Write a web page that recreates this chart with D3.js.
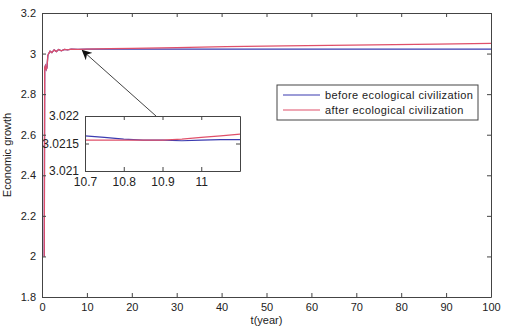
<!DOCTYPE html>
<html lang="en">
<head>
<meta charset="UTF-8" />
<title>Economic growth</title>
<script src="https://cdn.jsdelivr.net/npm/d3@7"></script>
<style>
  body { margin: 0; background: #fff; }
  svg text { font-family: "Liberation Sans", Arial, sans-serif; fill: #222; }
  .axis path, .axis line { stroke: #444; }
</style>
</head>
<body>
<svg id="chart" width="510" height="331"></svg>
<script>
// data
const years = [0.5, 0.6, 0.75, 0.95, 1.1, 1.3, 1.5, 1.8, 2.2, 2.7, 3.2, 3.7, 4.3, 5, 5.7, 6.5, 8, 10, 15, 20, 30, 41, 54, 69, 88, 100];
const beforeEco = [2.0, 2.93, 2.94, 2.922, 2.93, 2.99, 3.0, 3.012, 3.005, 3.018, 3.01, 3.02, 3.014, 3.021, 3.018, 3.022, 3.021, 3.0216, 3.0218, 3.022, 3.022, 3.022, 3.022, 3.022, 3.022, 3.022];
const afterEco = [2.0, 2.93, 2.94, 2.922, 2.93, 2.99, 3.0, 3.012, 3.005, 3.018, 3.01, 3.02, 3.014, 3.021, 3.018, 3.022, 3.021, 3.0216, 3.024, 3.026, 3.029, 3.034, 3.038, 3.042, 3.047, 3.05];

// zoomed window t = 10.7 .. 11.1
const zoomYears = [10.7, 10.75, 10.8, 10.85, 10.9, 10.95, 11.0, 11.05, 11.1];
const zoomBefore = [3.02164, 3.02161, 3.02158, 3.02156, 3.02156, 3.02155, 3.02156, 3.02157, 3.02157];
const zoomAfter = [3.02156, 3.02156, 3.02156, 3.02156, 3.02156, 3.02158, 3.02161, 3.02164, 3.02167];

const xTicks = [0, 10, 20, 30, 40, 50, 60, 70, 80, 90, 100];
const yTicks = [1.8, 2, 2.2, 2.4, 2.6, 2.8, 3, 3.2];
const zoomXTicks = [10.7, 10.8, 10.9, 11];
const zoomYTicks = [3.021, 3.0215, 3.022];
const seriesNames = ["before ecological civilization", "after ecological civilization"];
const colors = ["#3b3bb0", "#e0506a"];

const svg = d3.select("#chart");
const plotL = 42, plotR = 491, plotT = 13, plotB = 297;

const x = d3.scaleLinear().domain([0, 100]).range([plotL, plotR]);
const y = d3.scaleLinear().domain([1.8, 3.2]).range([plotB, plotT]);

// frame + ticks (matlab style: ticks inward on all sides)
function frame(g, xs, ys, xt, yt, xfmt, yfmt) {
  const [x0, x1] = xs.range(), [y0, y1] = ys.range();
  g.append("g").attr("class", "axis").attr("transform", `translate(0,${y0})`)
    .call(d3.axisBottom(xs).tickValues(xt).tickSizeInner(-4).tickSizeOuter(0).tickPadding(6).tickFormat(xfmt));
  g.append("g").attr("class", "axis").attr("transform", `translate(0,${y1})`)
    .call(d3.axisTop(xs).tickValues(xt).tickSizeInner(-4).tickSizeOuter(0).tickFormat(""));
  g.append("g").attr("class", "axis").attr("transform", `translate(${x0},0)`)
    .call(d3.axisLeft(ys).tickValues(yt).tickSizeInner(-4).tickSizeOuter(0).tickPadding(6).tickFormat(yfmt));
  g.append("g").attr("class", "axis").attr("transform", `translate(${x1},0)`)
    .call(d3.axisRight(ys).tickValues(yt).tickSizeInner(-4).tickSizeOuter(0).tickFormat(""));
  g.selectAll(".axis text").style("font-size", "11px").style("font-family", "Liberation Sans, Arial, sans-serif").attr("fill", "#222");
  g.selectAll(".axis .domain").attr("stroke", "#444");
}

const main = svg.append("g");
const line = d3.line().x(d => x(d[0])).y(d => y(d[1]));
[beforeEco, afterEco].forEach((vals, i) => {
  main.append("path")
    .datum(years.map((t, k) => [t, vals[k]]))
    .attr("fill", "none").attr("stroke", colors[i]).attr("stroke-width", 1.3)
    .attr("d", line);
});
frame(main, x, y, xTicks, yTicks, d3.format("d"), d => d3.format("~g")(d));

svg.append("text").attr("x", (plotL + plotR) / 2).attr("y", 324)
  .attr("text-anchor", "middle").style("font-size", "11px").text("t(year)");
svg.append("text").attr("transform", `translate(11,${(plotT + plotB) / 2}) rotate(-90)`)
  .attr("text-anchor", "middle").style("font-size", "11px").text("Economic growth");

// legend
const lg = svg.append("g");
lg.append("rect").attr("x", 277).attr("y", 85).attr("width", 201).attr("height", 35)
  .attr("fill", "#fff").attr("stroke", "#444");
seriesNames.forEach((name, i) => {
  const ly = 95 + i * 15;
  lg.append("line").attr("x1", 283).attr("x2", 320).attr("y1", ly).attr("y2", ly)
    .attr("stroke", colors[i]).attr("stroke-width", 1.2);
  lg.append("text").attr("x", 325).attr("y", ly + 4).style("font-size", "11px")
    .style("letter-spacing", "0.4px").text(name);
});

// arrow from inset to the curve
svg.append("defs").append("marker").attr("id", "head")
  .attr("viewBox", "0 0 10 10").attr("refX", 9).attr("refY", 5)
  .attr("markerWidth", 10).attr("markerHeight", 10).attr("orient", "auto")
  .append("path").attr("d", "M0,0 L10,5 L0,10 L3,5 Z").attr("fill", "#111");
svg.append("line").attr("x1", 156).attr("y1", 116).attr("x2", x(9)).attr("y2", y(3.015))
  .attr("stroke", "#444").attr("marker-end", "url(#head)");

// inset
const zx = d3.scaleLinear().domain([10.7, 11.1]).range([85, 240]);
const zy = d3.scaleLinear().domain([3.021, 3.022]).range([171, 116]);
const inset = svg.append("g");
inset.append("rect").attr("x", 85).attr("y", 116).attr("width", 155).attr("height", 55).attr("fill", "#fff");
const zline = d3.line().x(d => zx(d[0])).y(d => zy(d[1]));
[zoomBefore, zoomAfter].forEach((vals, i) => {
  inset.append("path")
    .datum(zoomYears.map((t, k) => [t, vals[k]]))
    .attr("fill", "none").attr("stroke", colors[i]).attr("stroke-width", 1.2)
    .attr("d", zline);
});
frame(inset, zx, zy, zoomXTicks, zoomYTicks, d => d3.format("~g")(d), d => d3.format("~g")(d));
inset.selectAll(".axis text").style("font-size", "12px");
</script>
</body>
</html>
